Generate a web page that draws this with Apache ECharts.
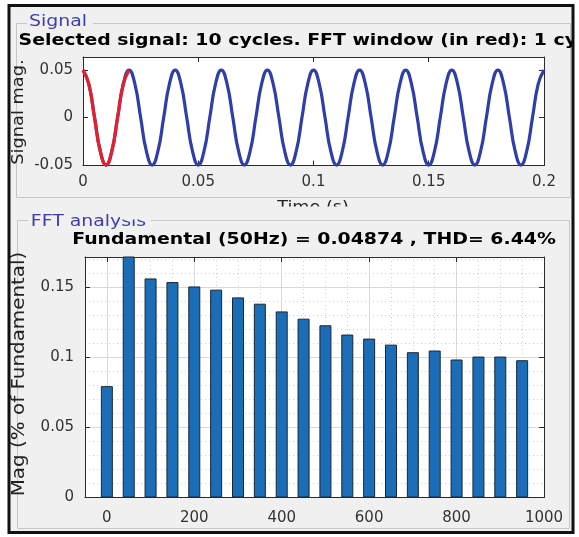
<!DOCTYPE html>
<html><head><meta charset="utf-8">
<script src="https://cdn.jsdelivr.net/npm/echarts@6/dist/echarts.min.js"></script>
<style>html,body{margin:0;padding:0;background:#fff}#c{width:579px;height:537px}</style>
</head><body><div id="c"></div>
<script>
// ---- data ----
const signalStep = 0.0025; // seconds between samples (8 samples per 50 Hz cycle)
const signalValues = [
  0.05, 0.0354, 0, -0.0354, -0.05, -0.0354, 0, 0.0354,
  0.05, 0.0354, 0, -0.0354, -0.05, -0.0354, 0, 0.0354,
  0.05, 0.0354, 0, -0.0354, -0.05, -0.0354, 0, 0.0354,
  0.05, 0.0354, 0, -0.0354, -0.05, -0.0354, 0, 0.0354,
  0.05, 0.0354, 0, -0.0354, -0.05, -0.0354, 0, 0.0354,
  0.05, 0.0354, 0, -0.0354, -0.05, -0.0354, 0, 0.0354,
  0.05, 0.0354, 0, -0.0354, -0.05, -0.0354, 0, 0.0354,
  0.05, 0.0354, 0, -0.0354, -0.05, -0.0354, 0, 0.0354,
  0.05, 0.0354, 0, -0.0354, -0.05, -0.0354, 0, 0.0354,
  0.05, 0.0354, 0, -0.0354, -0.05, -0.0354, 0, 0.0354,
  0.05
];
const fftWindowSamples = 9; // first cycle, 0 .. 0.02 s
const harmonicFreqs = [0, 50, 100, 150, 200, 250, 300, 350, 400, 450, 500, 550, 600, 650, 700, 750, 800, 850, 900, 950];
const harmonicMags  = [0.0794, 0.19, 0.1562, 0.1536, 0.1505, 0.1482, 0.1427, 0.1382, 0.1327, 0.1275, 0.1228, 0.1162, 0.1133, 0.109, 0.1036, 0.1048, 0.0984, 0.1005, 0.1005, 0.0979];
const signalXTicks = [0, 0.05, 0.1, 0.15, 0.2];
const signalYTicks = [-0.05, 0, 0.05];
const fftXTicks = [0, 200, 400, 600, 800, 1000];
const fftYTicks = [0, 0.05, 0.1, 0.15];

const topTitle = 'Selected signal: 10 cycles. FFT window (in red): 1 cycle';
const bottomTitle = 'Fundamental (50Hz) = 0.04874 , THD= 6.44%';

// ---- build ----
const FONT = '"DejaVu Sans", sans-serif';
const AX = '#2b2b2b';
const fmt = v => String(+(+v).toFixed(4));

function ax(gridIndex, position, min, max, ticks, labels, extra) {
  return Object.assign({
    type: 'value', gridIndex, position, min, max,
    axisLine: { show: true, onZero: false, lineStyle: { color: AX, width: 1 } },
    axisTick: { show: true, inside: true, length: 5, customValues: ticks, lineStyle: { color: AX } },
    axisLabel: { show: labels, customValues: ticks, formatter: fmt, color: '#333', fontFamily: FONT, fontSize: 15, margin: 10 },
    splitLine: { show: false }
  }, extra || {});
}
function minorAx(gridIndex, position, min, max, interval) {
  return {
    type: 'value', gridIndex, position, min, max, interval,
    axisLine: { show: false }, axisTick: { show: false }, axisLabel: { show: false },
    splitLine: { show: true, lineStyle: { color: '#cfcfcf', width: 1, type: [1, 3] } }
  };
}

const signalData = signalValues.map((v, i) => [i * signalStep, v]);
const windowData = signalData.slice(0, fftWindowSamples);
const barData = harmonicFreqs.map((f, i) => [f, harmonicMags[i]]);

const txt = (text, x, y, font, fill, extra) => Object.assign({
  type: 'text', z: 50, x, y,
  style: { text, x: 0, y: 0, font, fill, align: 'center', verticalAlign: 'middle', textAlign: 'center', textVerticalAlign: 'middle' }
}, extra || {});
const SX = 1.18; // horizontal stretch of the reference's titles

const chart = echarts.init(document.getElementById('c'), null, { renderer: 'canvas' });
chart.setOption({
  backgroundColor: '#f0f0f0',
  animation: false,
  grid: [
    { left: 83, top: 57, width: 461, height: 108.5, show: true, backgroundColor: '#fff', borderWidth: 0 },
    { left: 85, top: 257, width: 459, height: 240.5, show: true, backgroundColor: '#fff', borderWidth: 0 }
  ],
  xAxis: [
    ax(0, 'bottom', 0, 0.2, signalXTicks, true, { axisLabel: { show: true, customValues: signalXTicks, formatter: fmt, color: '#333', fontFamily: FONT, fontSize: 15, margin: 9 } }),
    ax(0, 'top', 0, 0.2, signalXTicks, false),
    minorAx(1, 'bottom', -50, 1000, 50),
    ax(1, 'bottom', -50, 1000, fftXTicks, true, {
      axisLabel: { show: true, customValues: fftXTicks, formatter: fmt, color: '#333', fontFamily: FONT, fontSize: 15, margin: 13 },
      splitLine: { show: true, lineStyle: { color: '#d9d9d9', width: 1 } }
    }),
    ax(1, 'top', -50, 1000, fftXTicks, false)
  ],
  yAxis: [
    ax(0, 'left', -0.0505, 0.0638, signalYTicks, true),
    ax(0, 'right', -0.0505, 0.0638, signalYTicks, false),
    minorAx(1, 'left', 0, 0.1715, 0.01),
    ax(1, 'left', 0, 0.1715, fftYTicks, true, {
      interval: 0.05,
      axisLabel: { show: true, customValues: fftYTicks, formatter: fmt, color: '#333', fontFamily: FONT, fontSize: 15, margin: 11 },
      splitLine: { show: true, lineStyle: { color: '#d9d9d9', width: 1 } }
    }),
    ax(1, 'right', 0, 0.1715, fftYTicks, false)
  ],
  series: [
    { type: 'line', name: 'Signal', xAxisIndex: 0, yAxisIndex: 0, data: signalData, smooth: true, showSymbol: false,
      lineStyle: { color: '#2f3ea8', width: 3.2 }, z: 3 },
    { type: 'line', name: 'FFT window', xAxisIndex: 0, yAxisIndex: 0, data: windowData, smooth: true, showSymbol: false,
      lineStyle: { color: '#e3202b', width: 3.2 }, z: 4 },
    { type: 'bar', name: 'Harmonics', xAxisIndex: 3, yAxisIndex: 3, data: barData, barWidth: 12, clip: true,
      itemStyle: { color: '#1b6db7', borderColor: '#1a2633', borderWidth: 1 }, z: 3 }
  ],
  graphic: { elements: [
    { type: 'polyline', z: 40, shape: { points: [[27, 23.5], [16.5, 23.5], [16.5, 197.5], [570.5, 197.5], [570.5, 23.5], [93, 23.5]] },
      style: { stroke: '#c6c6c6', lineWidth: 1, fill: null } },
    { type: 'polyline', z: 40, shape: { points: [[28, 220.5], [17.5, 220.5], [17.5, 528.5], [569.5, 528.5], [569.5, 220.5], [151, 220.5]] },
      style: { stroke: '#c6c6c6', lineWidth: 1, fill: null } },
    txt('Signal', 58, 22, '16px ' + FONT, '#3d3db0', { scaleX: SX }),
    txt('FFT analysis', 88.5, 222, '16px ' + FONT, '#3d3db0', { scaleX: SX }),
    txt(topTitle, 313, 41, 'bold 16px ' + FONT, '#000', { scaleX: SX }),
    txt(bottomTitle, 314, 240, 'bold 16px ' + FONT, '#000', { scaleX: SX }),
    txt('Signal mag.', 19, 112, '16px ' + FONT, '#222', { rotation: Math.PI / 2, scaleX: 1.11 }),
    txt('Mag (% of Fundamental)', 20, 374, '17px ' + FONT, '#222', { rotation: Math.PI / 2, scaleX: 1.17 }),
    txt('Time (s)', 313, 208, '16px ' + FONT, '#222', { scaleX: 1.1 }),
    { type: 'rect', z: 60, shape: { x: 120, y: 206.5, width: 400, height: 13 }, style: { fill: '#f0f0f0' } },
    { type: 'rect', z: 200, shape: { x: 574, y: 0, width: 10, height: 537 }, style: { fill: '#fff' } },
    { type: 'rect', z: 200, shape: { x: 0, y: 0, width: 8, height: 537 }, style: { fill: '#fff' } },
    { type: 'rect', z: 200, shape: { x: 0, y: 0, width: 579, height: 4 }, style: { fill: '#fff' } },
    { type: 'rect', z: 200, shape: { x: 0, y: 534, width: 579, height: 3 }, style: { fill: '#fff' } },
    { type: 'rect', z: 201, shape: { x: 9, y: 5.5, width: 564, height: 527 }, style: { fill: null, stroke: '#111', lineWidth: 3 } }
  ] }
});
</script></body></html>
